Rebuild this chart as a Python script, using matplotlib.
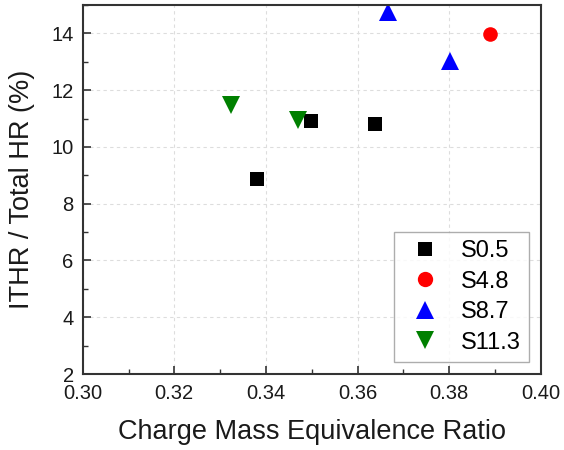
import matplotlib
matplotlib.use("Agg")
import matplotlib.pyplot as plt
from matplotlib.ticker import MultipleLocator

plt.rcParams['font.family'] = ['Liberation Sans', 'DejaVu Sans']

series = ["S0.5", "S4.8", "S8.7", "S11.3"]
x_s05 = [0.338, 0.3498, 0.3638]
y_s05 = [8.88, 10.93, 10.79]
x_s48 = [0.3889]
y_s48 = [13.99]
x_s87 = [0.3667, 0.3802]
y_s87 = [14.75, 13.04]
x_s113 = [0.3324, 0.3469]
y_s113 = [11.48, 10.95]

xs = [x_s05, x_s48, x_s87, x_s113]
ys = [y_s05, y_s48, y_s87, y_s113]
markers = ['s', 'o', '^', 'v']
colors = ['black', 'red', 'blue', 'green']
sizes = [9.5, 10.5, 13, 13]

fig = plt.figure(figsize=(5.64, 4.5), dpi=100)
ax = fig.add_axes([82.7/564, 1 - 374/450, (540.7-82.7)/564, (374-5)/450])

for x, y, m, c, s, lab in zip(xs, ys, markers, colors, sizes, series):
    ax.plot(x, y, linestyle='none', marker=m, color=c, markersize=s,
            markeredgewidth=0, label=lab)

ax.set_xlim(0.30, 0.40)
ax.set_ylim(2, 15)
ax.xaxis.set_minor_locator(MultipleLocator(0.01))
ax.yaxis.set_minor_locator(MultipleLocator(1))
ax.set_xticks([0.30, 0.32, 0.34, 0.36, 0.38, 0.40])
ax.set_xticklabels(["0.30", "0.32", "0.34", "0.36", "0.38", "0.40"])
ax.set_yticks([2, 4, 6, 8, 10, 12, 14])
ax.set_yticklabels(["2", "4", "6", "8", "10", "12", "14"])

ax.tick_params(which='both', direction='in', top=False, right=False,
               labelsize=14.5, colors='#333333', labelcolor='#1a1a1a')
ax.tick_params(which='major', length=6, width=1.2)
ax.tick_params(which='minor', length=3.5, width=1.0)
ax.tick_params(axis='x', pad=7)
ax.tick_params(axis='y', pad=6.5)

for sp in ax.spines.values():
    sp.set_color('#333333')
    sp.set_linewidth(1.5)

ax.grid(True, which='major', linestyle=(0, (3, 3)), color='#dddddd', linewidth=0.8)
ax.set_axisbelow(True)

ax.set_xlabel("Charge Mass Equivalence Ratio", fontsize=19.5, color='#1a1a1a', labelpad=12)
ax.set_ylabel("ITHR / Total HR (%)", fontsize=19.5, color='#1a1a1a', labelpad=12)

leg = ax.legend(loc='lower right', fontsize=17, frameon=True, fancybox=False,
                edgecolor='#999999', handletextpad=0.5, borderpad=0.35,
                labelspacing=0.36, handlelength=2.0, markerscale=1.05,
                bbox_to_anchor=((529-82.7)/458, (374-362)/369), borderaxespad=0)
leg.get_frame().set_linewidth(1.0)

fig.savefig("out.png", dpi=100)
